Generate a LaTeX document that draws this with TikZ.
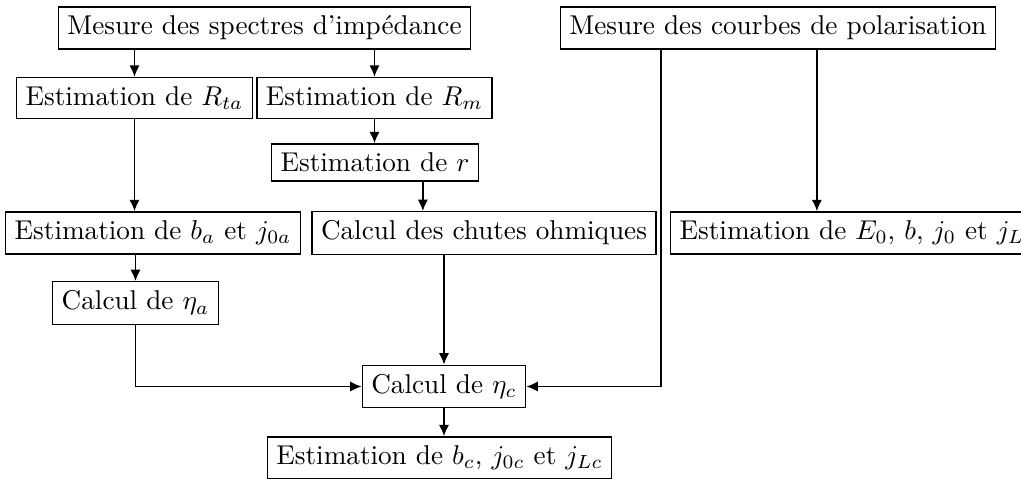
\documentclass[tikz,border=0pt]{standalone}
\usepackage{fontspec}
\usetikzlibrary{arrows.meta}
\begin{document}
\begin{tikzpicture}[x=0.3677pt,y=-0.3677pt,>={Latex[length=4.2pt,width=3.8pt]},line width=0.7pt,
  bloc/.style={draw,line width=0.5pt,inner sep=3.3pt}]
  \useasboundingbox (0,0) rectangle (1021,479);
  \node[bloc] (spectres) at (264.5,28) {Mesure des spectres d’impédance};
  \node[bloc] (polar) at (778,28) {Mesure des courbes de polarisation};
  \node[bloc] (Rta) at (134.5,98) {Estimation de $R_{ta}$};
  \node[bloc] (Rm) at (374.5,98) {Estimation de $R_m$};
  \node[bloc] (r) at (375,162.5) {Estimation de $r$};
  \node[bloc] (ba) at (153,233) {Estimation de $b_a$ et $j_{0a}$};
  \node[bloc] (chutes) at (484,233) {Calcul des chutes ohmiques};
  \node[bloc,anchor=west] (E0) at (670,233) {Estimation de $E_0$, $b$, $j_0$ et $j_L$};
  \node[bloc] (etaa) at (135.5,303) {Calcul de $\eta_a$};
  \node[bloc] (etac) at (444,386.5) {Calcul de $\eta_c$};
  \node[bloc] (bc) at (439.5,458) {Estimation de $b_c$, $j_{0c}$ et $j_{Lc}$};
  \draw[->] (spectres.south -| Rta) -- (Rta);
  \draw[->] (spectres.south -| Rm) -- (Rm);
  \draw[->] (Rm.south) -- (Rm.south |- r.north);
  \draw[->] (Rta) -- (Rta |- ba.north);
  \draw[->] ([xshift=17.6pt]r.south) -- ([xshift=17.6pt]r.south |- chutes.north);
  \draw[->] (ba.south -| etaa) -- (etaa);
  \draw[->] (etaa) |- (etac);
  \draw[->] (chutes.south -| etac) -- (etac);
  \draw[->] ([xshift=37.1pt]polar.south west) |- (etac);
  \draw[->] ([xshift=14.3pt]polar.south) -- ([xshift=14.3pt]polar.south |- E0.north);
  \draw[->] (etac.south) -- (etac.south |- bc.north);
\end{tikzpicture}
\end{document}
